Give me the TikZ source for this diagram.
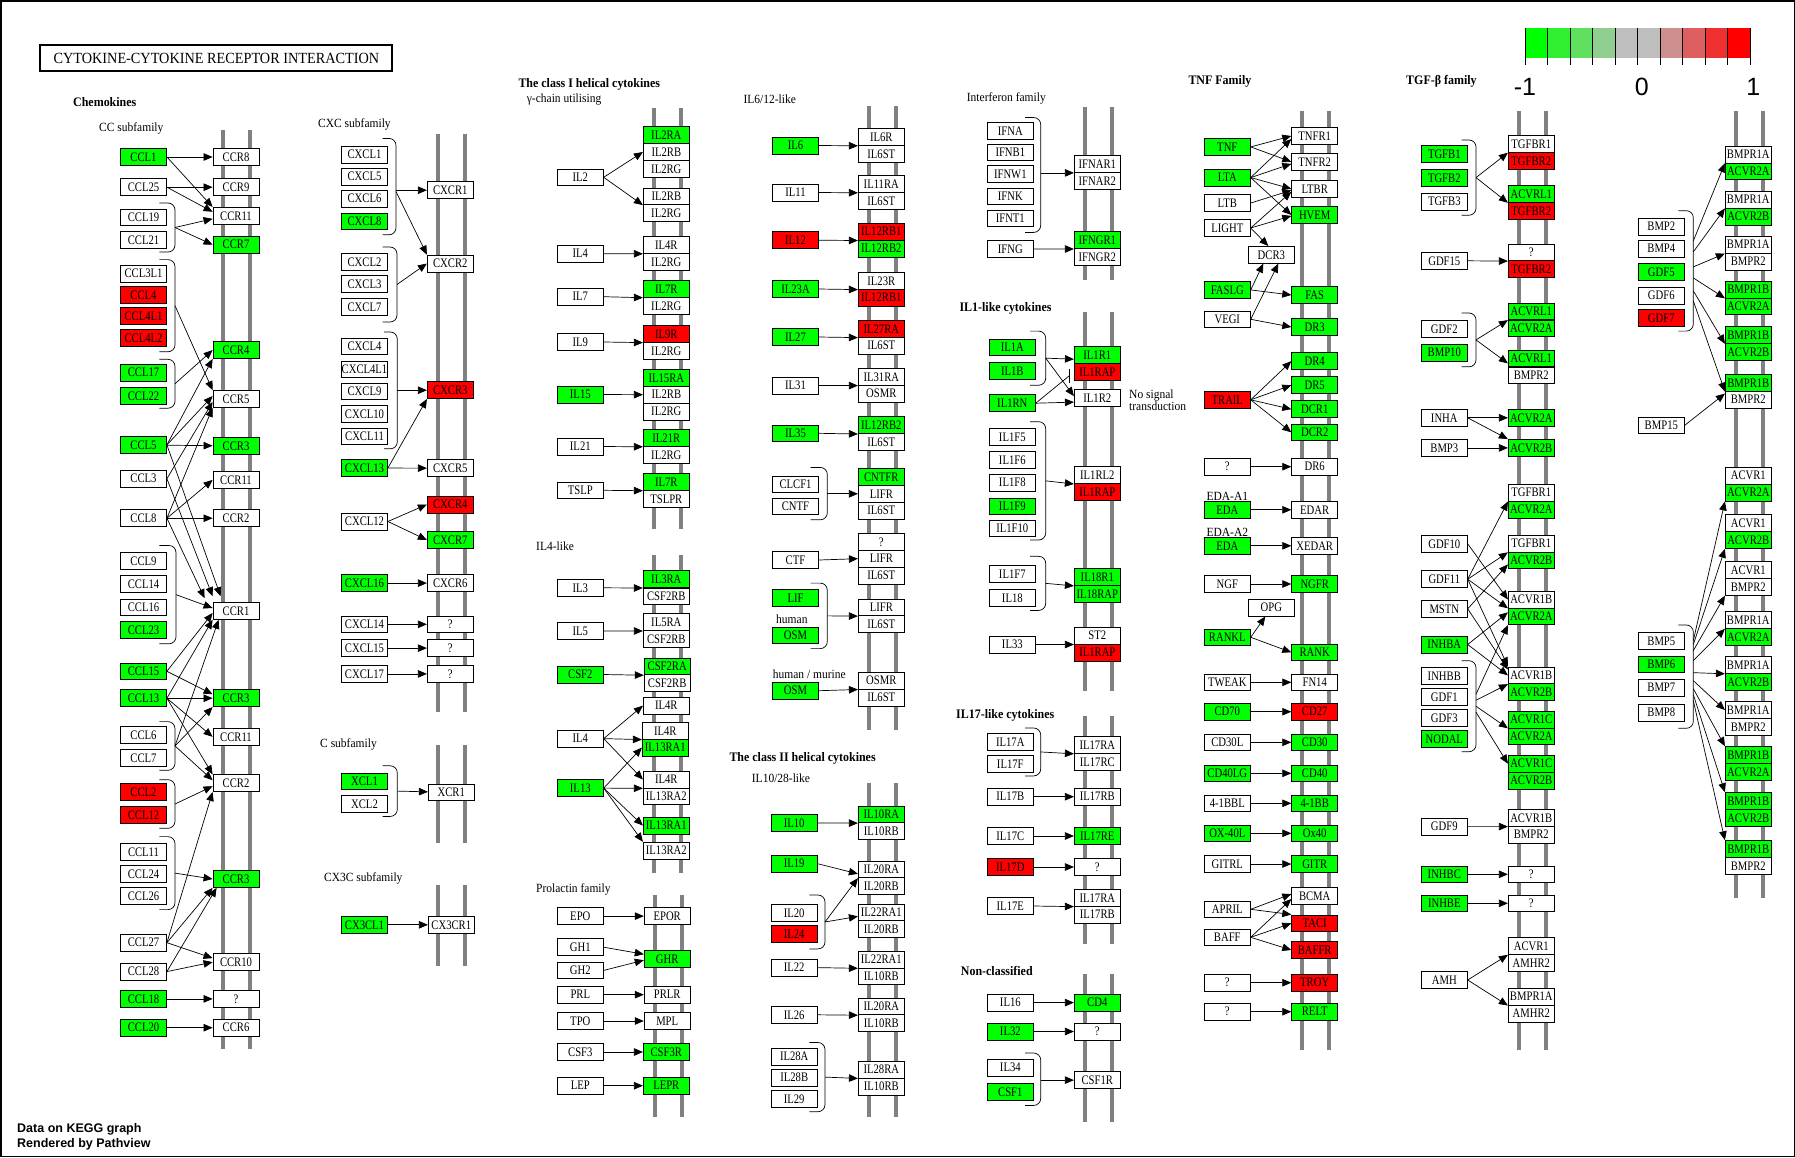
\documentclass[tikz,border=0pt]{standalone}
\usepackage{fontspec}
\setmainfont{Liberation Serif}
\newfontfamily\kgfamily{Liberation Serif}[FakeStretch=0.82]
\newfontfamily\lbfamily{Liberation Serif}[FakeStretch=0.92]
\newfontfamily\sansfam{Liberation Sans}
\usetikzlibrary{arrows.meta}
\definecolor{keggGreen}{RGB}{0,255,0}
\definecolor{keggRed}{RGB}{255,0,0}
\definecolor{keggGray}{RGB}{128,128,128}
\definecolor{lg0}{RGB}{0,255,0}
\definecolor{lg1}{RGB}{48,238,48}
\definecolor{lg2}{RGB}{95,222,95}
\definecolor{lg3}{RGB}{143,206,143}
\definecolor{lg4}{RGB}{190,190,190}
\definecolor{lg5}{RGB}{190,190,190}
\definecolor{lg6}{RGB}{206,143,143}
\definecolor{lg7}{RGB}{222,95,95}
\definecolor{lg8}{RGB}{238,48,48}
\definecolor{lg9}{RGB}{255,0,0}
\newcommand{\kgfont}{\kgfamily\fontsize{13}{13}\selectfont}
% two grey membrane lines round a receptor column
\newcommand{\membrane}[3]{%
  \draw[memline] ({#1-13.5},#2) -- ({#1-13.5},#3);
  \draw[memline] ({#1+13.5},#2) -- ({#1+13.5},#3);}
% ligand group bracket: name, left x, right x, top, bottom
\newcommand{\ligbrace}[5]{%
  \draw[bracket] (#2,#4) -- (#3,#4) -- (#3,#5) -- (#2,#5);
  \coordinate (#1) at (#3,{(#4+#5)/2});}

\begin{document}
\begin{tikzpicture}[
  x=1pt,y=-1pt,
  gene/.style={draw,line width=0.8pt,fill=white,minimum width=46pt,minimum height=16.8pt,inner sep=0pt,font=\kgfont},
  geneUp/.style={gene,fill=keggGreen},
  geneDn/.style={gene,fill=keggRed},
  rel/.style={-{Triangle[length=9pt,width=7.5pt]},line width=0.7pt},
  memline/.style={draw=keggGray,line width=4pt},
  bracket/.style={line width=0.7pt,rounded corners=7pt},
  famlabel/.style={font=\lbfamily\bfseries\fontsize{13}{13}\selectfont,anchor=west,inner sep=0pt},
  sublabel/.style={font=\lbfamily\fontsize{12.5}{13}\selectfont,anchor=west,inner sep=0pt}
]
\useasboundingbox (0,0) rectangle (1795,1157);
\draw[line width=1.5pt] (0.75,0.75) rectangle (1794.25,1156.25);

\node[draw,line width=2pt,minimum width=352pt,minimum height=26pt,inner sep=0pt,
  font=\lbfamily\fontsize{15.5}{16}\selectfont] (title) at (216.4,58.3) {CYTOKINE-CYTOKINE RECEPTOR INTERACTION};

% legend
\foreach \c [count=\i from 0] in {lg0,lg1,lg2,lg3,lg4,lg5,lg6,lg7,lg8,lg9}
  \fill[\c] ({1525+22.5*\i},28.2) rectangle ++(22.5,30.1);
\foreach \i in {0,...,10}
  \draw[line width=1pt] ({1525+22.5*\i},28.2) -- ++(0,36.5);
\node[font=\sansfam\fontsize{25}{25}\selectfont] (lgmin) at (1525,86.5) {-1};
\node[font=\sansfam\fontsize{25}{25}\selectfont] (lgmid) at (1641.7,86.5) {0};
\node[font=\sansfam\fontsize{25}{25}\selectfont] (lgmax) at (1753.3,86.5) {1};

\node[anchor=west,inner sep=0pt,font=\sansfam\bfseries\fontsize{12.5}{13}\selectfont] (foot1) at (17,1129.7) {Data on KEGG graph};
\node[anchor=west,inner sep=0pt,font=\sansfam\bfseries\fontsize{12.5}{13}\selectfont] (foot2) at (17,1144.7) {Rendered by Pathview};

% membranes
\membrane{236.5}{129.8}{1049.2}
\membrane{451.3}{134.4}{712.3}
\membrane{451.3}{745.2}{842.6}
\membrane{451.3}{884.5}{966.1}
\membrane{667.5}{108}{528.9}
\membrane{667.5}{555.3}{872.5}
\membrane{668.5}{895}{1116.6}
\membrane{882.5}{106.3}{730.2}
\membrane{882.5}{783.4}{1117.4}
\membrane{1098.7}{107.3}{280.4}
\membrane{1098.7}{311.9}{690.6}
\membrane{1098.7}{716}{944.4}
\membrane{1098.7}{974.3}{1122.2}
\membrane{1315.5}{110.7}{1050}
\membrane{1532.5}{111}{1050}
\membrane{1749.2}{111}{898.3}

% ---- chemokines: CC subfamily ----
\node[famlabel] (lbchemo) at (73,101.6) {Chemokines};
\node[sublabel] (lbcc) at (99,128) {CC subfamily};
\node[geneUp] (ccl1) at (143.5,157) {CCL1};
\node[gene] (ccl25) at (143.5,187.2) {CCL25};
\node[gene] (ccl19) at (143.5,217.3) {CCL19};
\node[gene] (ccl21) at (143.5,239.8) {CCL21};
\node[gene] (ccl3l1) at (143.5,273.7) {CCL3L1};
\node[geneDn] (ccl4) at (143.5,295.1) {CCL4};
\node[geneDn] (ccl4l1) at (143.5,316.2) {CCL4L1};
\node[geneDn] (ccl4l2) at (143.5,338) {CCL4L2};
\node[geneUp] (ccl17) at (143.5,372.7) {CCL17};
\node[geneUp] (ccl22) at (143.5,396) {CCL22};
\node[geneUp] (ccl5) at (143.5,444.9) {CCL5};
\node[gene] (ccl3) at (143.5,478.7) {CCL3};
\node[gene] (ccl8) at (143.5,518.2) {CCL8};
\node[gene] (ccl9) at (143.5,560.8) {CCL9};
\node[gene] (ccl14) at (143.5,584) {CCL14};
\node[gene] (ccl16) at (143.5,607.3) {CCL16};
\node[geneUp] (ccl23) at (143.5,630.1) {CCL23};
\node[geneUp] (ccl15) at (143.5,671.3) {CCL15};
\node[geneUp] (ccl13) at (143.5,698.2) {CCL13};
\node[gene] (ccl6) at (143.5,735) {CCL6};
\node[gene] (ccl7) at (143.5,758.2) {CCL7};
\node[geneDn] (ccl2) at (143.5,791.8) {CCL2};
\node[geneDn] (ccl12) at (143.5,815) {CCL12};
\node[gene] (ccl11) at (143.5,851.8) {CCL11};
\node[gene] (ccl24) at (143.5,874.2) {CCL24};
\node[gene] (ccl26) at (143.5,896) {CCL26};
\node[gene] (ccl27) at (143.5,942.7) {CCL27};
\node[gene] (ccl28) at (143.5,971.6) {CCL28};
\node[geneUp] (ccl18) at (143.5,998.9) {CCL18};
\node[geneUp] (ccl20) at (143.5,1027.7) {CCL20};

\node[gene] (ccr8) at (236,157) {CCR8};
\node[gene] (ccr9) at (236,187.2) {CCR9};
\node[gene] (ccr11a) at (236,215.8) {CCR11};
\node[geneUp] (ccr7) at (236,244.7) {CCR7};
\node[geneUp] (ccr4) at (236,350.1) {CCR4};
\node[gene] (ccr5) at (236,399) {CCR5};
\node[geneUp] (ccr3a) at (236,446) {CCR3};
\node[gene] (ccr11b) at (236,479.9) {CCR11};
\node[gene] (ccr2a) at (236,518.2) {CCR2};
\node[gene] (ccr1) at (236,611) {CCR1};
\node[geneUp] (ccr3b) at (236,698.2) {CCR3};
\node[gene] (ccr11c) at (236,736.8) {CCR11};
\node[gene] (ccr2b) at (236,783.2) {CCR2};
\node[geneUp] (ccr3c) at (236,879) {CCR3};
\node[gene] (ccr10) at (236,962.1) {CCR10};
\node[gene] (ccrq) at (236,998.9) {?};
\node[gene] (ccr6) at (236,1027.7) {CCR6};

\ligbrace{bccl19}{159.3}{175}{203}{252}
\ligbrace{bccl3}{159.3}{175}{259.6}{351.8}
\ligbrace{bccl17}{159.3}{175}{359.3}{408.2}
\ligbrace{bccl9}{159.3}{176}{545.5}{643.8}
\ligbrace{bccl6}{159.3}{175}{721.6}{770.3}
\ligbrace{bccl2}{159.3}{175}{779.7}{828.3}
\ligbrace{bccl11}{159.3}{175}{836.6}{909.6}

\draw[rel] (ccl1) -- (ccr8);
\draw[rel] (ccl1.east) -- (ccr11a.north west);
\draw[rel] (ccl25) -- (ccr9);
\draw[rel] (ccl25.east) -- ([yshift=4pt]ccr11a.west);
\draw[rel] (bccl19) -- ([yshift=-3pt]ccr11a.west);
\draw[rel] (bccl19) -- (ccr7.west);
\draw[rel] (bccl3) -- (ccr5.north west);
\draw[rel] (bccl17) -- (ccr4.west);
\draw[rel] (ccl5.east) -- (ccr4.south west);
\draw[rel] (ccl5.east) -- ([yshift=3pt]ccr5.west);
\draw[rel] (ccl5) -- (ccr3a);
\draw[rel] (ccl5.east) -- ([xshift=8pt,yshift=6pt]ccr1.north west);
\draw[rel] (ccl3.east) -- ([yshift=-3pt]ccr5.west);
\draw[rel] (ccl3.east) -- ([yshift=6pt]ccr1.north west);
\draw[rel] (ccl8.east) -- (ccr5.south west);
\draw[rel] (ccl8.east) -- (ccr11b.west);
\draw[rel] (ccl8) -- (ccr2a);
\draw[rel] (ccl8.east) -- ([xshift=-8pt,yshift=4pt]ccr1.north west);
\draw[rel] (bccl9) -- ([yshift=3pt]ccr1.west);
\draw[rel] (ccl15.east) -- ([yshift=-2pt]ccr1.west);
\draw[rel] (ccl15.east) -- ([yshift=4pt]ccr3b.west);
\draw[rel] (ccl13.east) -- (ccr1.south west);
\draw[rel] (ccl13) -- (ccr3b);
\draw[rel] (ccl13.east) -- (ccr11c.west);
\draw[rel] (ccl13.east) -- (ccr2b.north west);
\draw[rel] (bccl6) -- ([xshift=6pt]ccr1.south west);
\draw[rel] (bccl6) -- (ccr3b.south west);
\draw[rel] (bccl6) -- ([yshift=3pt]ccr2b.west);
\draw[rel] (bccl2) -- ([yshift=-3pt]ccr2b.west);
\draw[rel] (bccl11) -- (ccr3c.west);
\draw[rel] (ccl27.east) -- (ccr2b.south west);
\draw[rel] (ccl27.east) -- (ccr3c.south west);
\draw[rel] (ccl27.east) -- ([yshift=4pt]ccr10.west);
\draw[rel] (ccl28.east) -- ([xshift=4pt]ccr3c.south west);
\draw[rel] (ccl28.east) -- (ccr10.west);
\draw[rel] (ccl18) -- (ccrq);
\draw[rel] (ccl20) -- (ccr6);

% ---- CXC, C and CX3C subfamilies ----
\node[sublabel] (lbcxc) at (318,124.3) {CXC subfamily};
\node[gene] (cxcl1) at (364.5,154.7) {CXCL1};
\node[gene] (cxcl5) at (364.5,176.7) {CXCL5};
\node[gene] (cxcl6) at (364.5,198.7) {CXCL6};
\node[geneUp] (cxcl8) at (364.5,221.3) {CXCL8};
\node[gene] (cxcl2) at (364.5,261.9) {CXCL2};
\node[gene] (cxcl3) at (364.5,284.2) {CXCL3};
\node[gene] (cxcl7) at (364.5,306.8) {CXCL7};
\node[gene] (cxcl4) at (364.5,346.4) {CXCL4};
\node[gene] (cxcl4l1) at (364.5,369.4) {CXCL4L1};
\node[gene] (cxcl9) at (364.5,391.4) {CXCL9};
\node[gene] (cxcl10) at (364.5,414) {CXCL10};
\node[gene] (cxcl11) at (364.5,436.3) {CXCL11};
\node[geneUp] (cxcl13) at (364.5,468) {CXCL13};
\node[gene] (cxcl12) at (364.5,521.5) {CXCL12};
\node[geneUp] (cxcl16) at (364.5,583.1) {CXCL16};
\node[gene] (cxcl14) at (364.5,624.3) {CXCL14};
\node[gene] (cxcl15) at (364.5,648.1) {CXCL15};
\node[gene] (cxcl17) at (364.5,673.9) {CXCL17};
\node[gene] (cxcr1) at (450.3,190.2) {CXCR1};
\node[gene] (cxcr2) at (450.3,263.5) {CXCR2};
\node[geneDn] (cxcr3) at (450.3,390.2) {CXCR3};
\node[gene] (cxcr5) at (450.3,468.2) {CXCR5};
\node[geneDn] (cxcr4) at (450.3,504.5) {CXCR4};
\node[geneUp] (cxcr7) at (450.3,540) {CXCR7};
\node[gene] (cxcr6) at (450.3,583.1) {CXCR6};
\node[gene] (cxcq1) at (450.3,624.3) {?};
\node[gene] (cxcq2) at (450.3,648.1) {?};
\node[gene] (cxcq3) at (450.3,673.9) {?};
\ligbrace{bcxcl1}{382.7}{396}{138.4}{234.8}
\ligbrace{bcxcl2}{382.7}{397}{247}{322}
\ligbrace{bcxcl4}{384}{397.3}{332}{448.8}
\draw[rel] (bcxcl1 |- cxcr1) -- (cxcr1);
\draw[rel] ([yshift=-5pt]bcxcl1) -- (cxcr2.north west);
\draw[rel] (bcxcl2) -- (cxcr2.west);
\draw[rel] (bcxcl4 |- cxcr3) -- (cxcr3);
\draw[rel] (cxcl13.east) -- (cxcr3.south west);
\draw[rel] (cxcl13) -- (cxcr5);
\draw[rel] (cxcl12.east) -- (cxcr4.west);
\draw[rel] (cxcl12.east) -- (cxcr7.west);
\draw[rel] (cxcl16) -- (cxcr6);
\draw[rel] (cxcl14) -- (cxcq1);
\draw[rel] (cxcl15) -- (cxcq2);
\draw[rel] (cxcl17) -- (cxcq3);

\node[sublabel] (lbc) at (320,744.9) {C subfamily};
\node[geneUp] (xcl1) at (364.5,781.3) {XCL1};
\node[gene] (xcl2) at (364.5,803.8) {XCL2};
\node[gene] (xcr1) at (451.3,792.4) {XCR1};
\ligbrace{bxcl}{382.7}{397.3}{765.8}{816.4}
\draw[rel] (bxcl) -- (xcr1);

\node[sublabel] (lbcx3c) at (324,878.1) {CX3C subfamily};
\node[geneUp] (cx3cl1) at (364.5,924.8) {CX3CL1};
\node[gene] (cx3cr1) at (451.3,924.8) {CX3CR1};
\draw[rel] (cx3cl1) -- (cx3cr1);

% ---- class I helical cytokines ----
\node[famlabel] (lbcls1) at (518.3,84.5) {The class I helical cytokines};
\node[sublabel] (lbgamma) at (526.7,99.2) {γ-chain utilising};
\node[geneUp] (il2ra) at (666.3,135) {IL2RA};
\node[gene] (il2rb) at (666.3,152) {IL2RB};
\node[gene] (il2rg) at (666.3,168.9) {IL2RG};
\node[gene] (il2rbb) at (666.3,196.3) {IL2RB};
\node[gene] (il2rgb) at (666.3,213.2) {IL2RG};
\node[gene] (il4r) at (666.3,245) {IL4R};
\node[gene] (il2rgc) at (666.3,261.9) {IL2RG};
\node[geneUp] (il7r) at (666.3,288.9) {IL7R};
\node[gene] (il2rgd) at (666.3,305.8) {IL2RG};
\node[geneDn] (il9r) at (666.3,333.8) {IL9R};
\node[gene] (il2rge) at (666.3,350.8) {IL2RG};
\node[geneUp] (il15ra) at (666.3,377.8) {IL15RA};
\node[gene] (il2rbc) at (666.3,394.7) {IL2RB};
\node[gene] (il2rgf) at (666.3,411.6) {IL2RG};
\node[geneUp] (il21r) at (666.3,438) {IL21R};
\node[gene] (il2rgg) at (666.3,454.9) {IL2RG};
\node[geneUp] (il7rb) at (666.3,481.9) {IL7R};
\node[gene] (tslpr) at (666.3,498.8) {TSLPR};
\node[gene] (il2) at (580.3,177.3) {IL2};
\node[gene] (il4) at (580.3,253.7) {IL4};
\node[gene] (il7) at (580.3,296.7) {IL7};
\node[gene] (il9) at (580.3,342) {IL9};
\node[geneUp] (il15) at (580.3,394.5) {IL15};
\node[gene] (il21) at (580.3,446.5) {IL21};
\node[gene] (tslp) at (580.3,490.3) {TSLP};
\draw[rel] (il2.east) -- (il2rb.west);
\draw[rel] (il2.east) -- (il2rbb.south west);
\draw[rel] (il4.east) -- (il4r.south west);
\draw[rel] (il7.east) -- (il7r.south west);
\draw[rel] (il9.east) -- (il9r.south west);
\draw[rel] (il15.east) -- (il2rbc.west);
\draw[rel] (il21.east) -- (il21r.south west);
\draw[rel] (tslp.east) -- (il7rb.south west);

\node[sublabel] (lbil4) at (536,545.8) {IL4-like};
\node[geneUp] (il3ra) at (666.3,579.2) {IL3RA};
\node[gene] (csf2rb) at (666.3,596.4) {CSF2RB};
\node[gene] (il5ra) at (666.3,622.2) {IL5RA};
\node[gene] (csf2rbb) at (666.3,639.1) {CSF2RB};
\node[geneUp] (csf2ra) at (667.2,666.4) {CSF2RA};
\node[gene] (csf2rbc) at (667.2,683.2) {CSF2RB};
\node[gene] (il4ra) at (666.3,705.7) {IL4R};
\node[gene] (il4rb) at (665.3,730.8) {IL4R};
\node[geneUp] (il13ra1a) at (665.3,747.6) {IL13RA1};
\node[gene] (il4rc) at (666.3,779.5) {IL4R};
\node[gene] (il13ra2a) at (666.3,796.3) {IL13RA2};
\node[geneUp] (il13ra1b) at (666.3,825.5) {IL13RA1};
\node[gene] (il13ra2b) at (666.3,850.6) {IL13RA2};
\node[gene] (il3) at (580.3,587.8) {IL3};
\node[gene] (il5) at (580.3,630.9) {IL5};
\node[geneUp] (csf2) at (580.3,674.5) {CSF2};
\node[gene] (il4b) at (580.3,738.6) {IL4};
\node[geneUp] (il13) at (580.3,788.1) {IL13};
\draw[rel] (il3.east) -- (il3ra.south west);
\draw[rel] (il5.east) -- (il5ra.south west);
\draw[rel] (csf2.east) -- (csf2ra.south west);
\draw[rel] (il4b.east) -- (il4ra.west);
\draw[rel] (il4b.east) -- (il4rb.south west);
\draw[rel] (il4b.east) -- (il4rc.west);
\draw[rel] (il13.east) -- (il13ra1a.west);
\draw[rel] (il13.east) -- (il4rc.south west);
\draw[rel] (il13.east) -- (il13ra1b.west);
\draw[rel] (il13.east) -- (il13ra2b.north west);

\node[sublabel] (lbprl) at (536,889.3) {Prolactin family};
\node[gene] (epor) at (667.2,916.1) {EPOR};
\node[geneUp] (ghr) at (667.2,959.2) {GHR};
\node[gene] (prlr) at (667.2,994.7) {PRLR};
\node[gene] (mpl) at (667.2,1021) {MPL};
\node[geneUp] (csf3r) at (666.3,1052) {CSF3R};
\node[geneUp] (lepr) at (666.3,1085.7) {LEPR};
\node[gene] (epo) at (580.3,916.1) {EPO};
\node[gene] (gh1) at (580.3,947.2) {GH1};
\node[gene] (gh2) at (580.3,970.4) {GH2};
\node[gene] (prl) at (580.3,994.7) {PRL};
\node[gene] (tpo) at (580.3,1021) {TPO};
\node[gene] (csf3) at (580.3,1052) {CSF3};
\node[gene] (lep) at (580.3,1085.7) {LEP};
\draw[rel] (epo) -- (epor);
\draw[rel] (gh1.east) -- ([yshift=5pt]ghr.west);
\draw[rel] (gh2.east) -- ([yshift=-1pt]ghr.west);
\draw[rel] (prl) -- (prlr);
\draw[rel] (tpo) -- (mpl);
\draw[rel] (csf3) -- (csf3r);
\draw[rel] (lep) -- (lepr);

% ---- IL6/12-like ----
\node[sublabel] (lbil6) at (743.3,99.2) {IL6/12-like};
\node[gene] (il6r) at (881.3,137) {IL6R};
\node[gene] (il6st) at (881.3,154) {IL6ST};
\node[gene] (il11ra) at (881.3,184) {IL11RA};
\node[gene] (il6stb) at (881.3,201) {IL6ST};
\node[geneDn] (il12rb1a) at (881.3,231.7) {IL12RB1};
\node[geneUp] (il12rb2a) at (881.3,248.6) {IL12RB2};
\node[gene] (il23r) at (881.3,280.8) {IL23R};
\node[geneDn] (il12rb1b) at (881.3,297.7) {IL12RB1};
\node[geneDn] (il27ra) at (881.3,328.8) {IL27RA};
\node[gene] (il6stc) at (881.3,345.7) {IL6ST};
\node[gene] (il31ra) at (881.3,376.8) {IL31RA};
\node[gene] (osmra) at (881.3,393.7) {OSMR};
\node[geneUp] (il12rb2b) at (881.3,425.2) {IL12RB2};
\node[gene] (il6std) at (881.3,442.1) {IL6ST};
\node[geneUp] (cntfr) at (881.3,476.9) {CNTFR};
\node[gene] (lifra) at (881.3,493.8) {LIFR};
\node[gene] (il6ste) at (881.3,510.7) {IL6ST};
\node[gene] (il6q) at (881.3,541.8) {?};
\node[gene] (lifrb) at (881.3,558.7) {LIFR};
\node[gene] (il6stf) at (881.3,575.6) {IL6ST};
\node[gene] (lifrc) at (881.3,607.3) {LIFR};
\node[gene] (il6stg) at (881.3,624.1) {IL6ST};
\node[gene] (osmrb) at (881.3,680.7) {OSMR};
\node[gene] (il6sth) at (881.3,697.5) {IL6ST};
\node[geneUp] (il6) at (795.5,145.5) {IL6};
\node[gene] (il11) at (795.5,192.5) {IL11};
\node[geneDn] (il12) at (795.5,240.2) {IL12};
\node[geneUp] (il23a) at (795.5,289) {IL23A};
\node[geneUp] (il27) at (795.5,337) {IL27};
\node[gene] (il31) at (795.5,385.5) {IL31};
\node[geneUp] (il35) at (795.5,433.3) {IL35};
\node[gene] (clcf1) at (795.5,484.3) {CLCF1};
\node[gene] (cntf) at (795.5,506.3) {CNTF};
\node[gene] (ctf) at (795.5,560) {CTF};
\node[geneUp] (lif) at (795.5,597.9) {LIF};
\node[sublabel] (lbhuman) at (776,619.3) {human};
\node[geneUp] (osma) at (795.5,635.3) {OSM};
\node[sublabel] (lbmurine) at (772.7,674.3) {human / murine};
\node[geneUp] (osmb) at (795.5,690.7) {OSM};
\ligbrace{bcntf}{810.7}{827.3}{467.4}{519.8}
\ligbrace{blif}{810.7}{827.3}{583.1}{648.6}
\draw[rel] (il6.east) -- (il6r.south west);
\draw[rel] (il11.east) -- (il11ra.south west);
\draw[rel] (il12.east) -- (il12rb1a.south west);
\draw[rel] (il23a.east) -- (il23r.south west);
\draw[rel] (il27.east) -- (il27ra.south west);
\draw[rel] (il31.east) -- (il31ra.south west);
\draw[rel] (il35.east) -- (il12rb2b.south west);
\draw[rel] (bcntf |- lifra) -- (lifra);
\draw[rel] (ctf.east) -- (lifrb.west);
\draw[rel] (blif) -- (lifrc.south west);
\draw[rel] (osmb.east) -- (osmrb.south west);

% ---- class II helical cytokines ----
\node[famlabel] (lbcls2) at (729.3,758.7) {The class II helical cytokines};
\node[sublabel] (lbil10) at (751.7,777.8) {IL10/28-like};
\node[geneUp] (il10ra) at (881.3,814.3) {IL10RA};
\node[gene] (il10rba) at (881.3,831.2) {IL10RB};
\node[gene] (il20raa) at (881.3,869.3) {IL20RA};
\node[gene] (il20rba) at (881.3,886.2) {IL20RB};
\node[gene] (il22raa) at (881.3,912.4) {IL22RA1};
\node[gene] (il20rbb) at (881.3,929.2) {IL20RB};
\node[gene] (il22rab) at (881.3,959.5) {IL22RA1};
\node[gene] (il10rbb) at (881.3,976.4) {IL10RB};
\node[gene] (il20rab) at (881.3,1006.4) {IL20RA};
\node[gene] (il10rbc) at (881.3,1023.2) {IL10RB};
\node[gene] (il28ra) at (881.3,1069.6) {IL28RA};
\node[gene] (il10rbd) at (881.3,1086.5) {IL10RB};
\node[geneUp] (il10) at (794.2,822.9) {IL10};
\node[geneUp] (il19) at (794.2,863.7) {IL19};
\node[gene] (il20) at (794.2,912.8) {IL20};
\node[geneDn] (il24) at (794.2,934.1) {IL24};
\node[gene] (il22) at (794.2,967.6) {IL22};
\node[gene] (il26) at (794.2,1014.8) {IL26};
\node[gene] (il28a) at (794.2,1056.5) {IL28A};
\node[gene] (il28b) at (794.2,1077.5) {IL28B};
\node[gene] (il29) at (794.2,1098.8) {IL29};
\ligbrace{bil20}{809.3}{825}{895}{948.9}
\ligbrace{bil28}{809.3}{825}{1042.5}{1111.7}
\draw[rel] (il10.east) -- (il10ra.south west);
\draw[rel] (il19.east) -- ([yshift=-4.5pt]il20raa.west);
\draw[rel] (bil20) -- (il20raa.south west);
\draw[rel] (bil20) -- ([yshift=-4pt]il22raa.west);
\draw[rel] (il22.east) -- (il22rab.south west);
\draw[rel] (il26.east) -- (il20rab.south west);
\draw[rel] (bil28) -- (il28ra.south west);

% ---- interferon family ----
\node[sublabel] (lbifn) at (966.7,98) {Interferon family};
\node[gene] (ifna) at (1010.3,131) {IFNA};
\node[gene] (ifnb1) at (1010.3,152.3) {IFNB1};
\node[gene] (ifnw1) at (1010.3,174.2) {IFNW1};
\node[gene] (ifnk) at (1010.3,196.3) {IFNK};
\node[gene] (ifnt1) at (1010.3,218.3) {IFNT1};
\node[gene] (ifng) at (1010.3,249) {IFNG};
\node[gene] (ifnar1) at (1097.3,164.1) {IFNAR1};
\node[gene] (ifnar2) at (1097.3,181) {IFNAR2};
\node[geneUp] (ifngr1) at (1097.3,240.2) {IFNGR1};
\node[gene] (ifngr2) at (1097.3,257.1) {IFNGR2};
\ligbrace{bifn}{1025}{1040.7}{117.5}{232.4}
\draw[rel] (bifn |- ifnar1.south west) -- (ifnar1.south west);
\draw[rel] (ifng.east) -- (ifngr1.south west);

% ---- IL1-like cytokines ----
\node[famlabel] (lbil1) at (959.3,308.1) {IL1-like cytokines};
\node[geneUp] (il1a) at (1012.3,347.4) {IL1A};
\node[geneUp] (il1b) at (1012.3,371) {IL1B};
\node[geneUp] (il1rn) at (1012.3,403.2) {IL1RN};
\node[gene] (il1f5) at (1012.3,437) {IL1F5};
\node[gene] (il1f6) at (1012.3,460) {IL1F6};
\node[gene] (il1f8) at (1012.3,482.6) {IL1F8};
\node[geneUp] (il1f9) at (1012.3,506.3) {IL1F9};
\node[gene] (il1f10) at (1012.3,528.3) {IL1F10};
\node[gene] (il1f7) at (1012.3,573.9) {IL1F7};
\node[gene] (il18) at (1012.3,597.9) {IL18};
\node[gene] (il33) at (1012.3,644.5) {IL33};
\node[geneUp] (il1r1) at (1097.3,355.2) {IL1R1};
\node[geneDn] (il1rapa) at (1097.3,372) {IL1RAP};
\node[gene] (il1r2) at (1097.3,398.1) {IL1R2};
\node[gene] (il1rl2) at (1097.3,475.2) {IL1RL2};
\node[geneDn] (il1rapb) at (1097.3,492.1) {IL1RAP};
\node[geneUp] (il18r1) at (1097.3,577.1) {IL18R1};
\node[geneUp] (il18rap) at (1097.3,593.8) {IL18RAP};
\node[gene] (st2) at (1097.3,635.7) {ST2};
\node[geneDn] (il1rapc) at (1097.3,652.5) {IL1RAP};
\node[anchor=west,align=left,inner sep=0pt,font=\lbfamily\fontsize{12.5}{11}\selectfont] (lbnosig) at (1129,400.5) {No signal\\transduction};
\ligbrace{bil1}{1030}{1045.7}{331.1}{385.2}
\ligbrace{bil1f}{1030}{1045.7}{421.7}{540}
\ligbrace{bil18}{1030}{1045.7}{556.3}{610.4}
\coordinate (il1bar) at (1069,376);
\draw[rel] (bil1) -- ([yshift=-4pt]il1r1.west);
\draw[rel] (bil1) -- ([yshift=2pt]il1r2.west);
\draw[rel] (il1rn.east) -- ([yshift=-4pt]il1r2.west);
\draw[line width=0.7pt] (il1rn.east) -- (il1bar);
\draw[line width=0.7pt] ([yshift=7pt]il1bar) -- ([yshift=-7pt]il1bar);
\draw[rel] (bil1f) -- (il1rl2.south west);
\draw[rel] (bil18) -- (il18r1.south west);
\draw[rel] (il33.east) -- (st2.south west);

% ---- IL17-like cytokines ----
\node[famlabel] (lbil17) at (956,714.9) {IL17-like cytokines};
\node[gene] (il17a) at (1010.3,742) {IL17A};
\node[gene] (il17f) at (1010.3,763.8) {IL17F};
\node[gene] (il17b) at (1010.3,796.7) {IL17B};
\node[gene] (il17c) at (1010.3,836) {IL17C};
\node[geneDn] (il17d) at (1010.3,867) {IL17D};
\node[gene] (il17e) at (1010.3,906) {IL17E};
\node[gene] (il17raa) at (1097.3,745) {IL17RA};
\node[gene] (il17rc) at (1097.3,761.9) {IL17RC};
\node[gene] (il17rba) at (1097.3,796.7) {IL17RB};
\node[geneUp] (il17re) at (1097.3,836) {IL17RE};
\node[gene] (il17q) at (1097.3,867) {?};
\node[gene] (il17rab) at (1097.3,897.8) {IL17RA};
\node[gene] (il17rbb) at (1097.3,914.7) {IL17RB};
\ligbrace{bil17}{1025}{1040.7}{728}{775.9}
\draw[rel] (bil17) -- (il17raa.south west);
\draw[rel] (il17b) -- (il17rba);
\draw[rel] (il17c) -- (il17re);
\draw[rel] (il17d) -- (il17q);
\draw[rel] (il17e.east) -- (il17rab.south west);

% ---- non-classified ----
\node[famlabel] (lbnoncl) at (960.7,971) {Non-classified};
\node[gene] (il16) at (1010.3,1002.6) {IL16};
\node[geneUp] (il32) at (1010.3,1031.5) {IL32};
\node[gene] (il34) at (1010.3,1067.7) {IL34};
\node[geneUp] (csf1) at (1010.3,1092.1) {CSF1};
\node[geneUp] (cd4) at (1097.3,1002.6) {CD4};
\node[gene] (ncq) at (1097.3,1031.5) {?};
\node[gene] (csf1r) at (1097.3,1080.1) {CSF1R};
\ligbrace{bcsf1}{1025}{1040.7}{1053}{1105.4}
\draw[rel] (il16) -- (cd4);
\draw[rel] (il32) -- (ncq);
\draw[rel] (bcsf1 |- csf1r) -- (csf1r);

% ---- TNF family ----
\node[famlabel] (lbtnf) at (1188.3,81.1) {TNF Family};
\node[gene] (tnfr1) at (1314.7,136) {TNFR1};
\node[gene] (tnfr2) at (1314.7,161.8) {TNFR2};
\node[gene] (ltbr) at (1314.7,188.8) {LTBR};
\node[geneUp] (hvem) at (1314.7,214.9) {HVEM};
\node[geneUp] (fas) at (1314.7,295) {FAS};
\node[geneUp] (dr3) at (1314.7,327) {DR3};
\node[geneUp] (dr4) at (1314.7,361.2) {DR4};
\node[geneUp] (dr5) at (1314.7,385.2) {DR5};
\node[geneUp] (dcr1) at (1314.7,409.2) {DCR1};
\node[geneUp] (dcr2) at (1314.7,432.3) {DCR2};
\node[gene] (dr6) at (1314.7,466.7) {DR6};
\node[gene] (edar) at (1314.7,509.8) {EDAR};
\node[gene] (xedar) at (1314.7,545.8) {XEDAR};
\node[geneUp] (ngfr) at (1314.7,584) {NGFR};
\node[geneUp] (rank) at (1314.7,652.3) {RANK};
\node[gene] (fn14) at (1314.7,682.3) {FN14};
\node[geneDn] (cd27) at (1314.7,711.7) {CD27};
\node[geneUp] (cd30) at (1314.7,742.3) {CD30};
\node[geneUp] (cd40) at (1314.7,773.3) {CD40};
\node[geneUp] (r41bb) at (1314.7,803.3) {4-1BB};
\node[geneUp] (ox40) at (1314.7,833.3) {Ox40};
\node[geneUp] (gitr) at (1314.7,864) {GITR};
\node[gene] (bcma) at (1314.7,896) {BCMA};
\node[geneDn] (taci) at (1314.7,923.3) {TACI};
\node[geneDn] (baffr) at (1314.7,950) {BAFFR};
\node[geneDn] (troy) at (1314.7,982.7) {TROY};
\node[geneUp] (relt) at (1314.7,1011.7) {RELT};
\node[geneUp] (tnf) at (1227.3,146.9) {TNF};
\node[geneUp] (lta) at (1227.3,177.6) {LTA};
\node[gene] (ltb) at (1227.3,203) {LTB};
\node[gene] (light) at (1227.3,228) {LIGHT};
\node[gene] (dcr3) at (1271.3,254.8) {DCR3};
\node[geneUp] (faslg) at (1227.3,289.9) {FASLG};
\node[gene] (vegi) at (1227.3,319.3) {VEGI};
\node[geneDn] (trail) at (1227.3,399.8) {TRAIL};
\node[gene] (tnfq) at (1227.3,466.7) {?};
\node[sublabel,anchor=center] (lbedaa1) at (1227.3,496.6) {EDA-A1};
\node[geneUp] (edaa) at (1227.3,509.8) {EDA};
\node[sublabel,anchor=center] (lbedaa2) at (1227.3,532.5) {EDA-A2};
\node[geneUp] (edab) at (1227.3,545.8) {EDA};
\node[gene] (ngf) at (1227.3,584) {NGF};
\node[gene] (opg) at (1271.3,607.7) {OPG};
\node[geneUp] (rankl) at (1227.3,637.3) {RANKL};
\node[gene] (tweak) at (1227.3,682.3) {TWEAK};
\node[geneUp] (cd70) at (1227.3,711.7) {CD70};
\node[gene] (cd30l) at (1227.3,742.3) {CD30L};
\node[geneUp] (cd40lg) at (1227.3,773.3) {CD40LG};
\node[gene] (l41bbl) at (1227.3,803.3) {4-1BBL};
\node[geneUp] (ox40l) at (1227.3,833.3) {OX-40L};
\node[gene] (gitrl) at (1227.3,864) {GITRL};
\node[gene] (april) at (1227.3,909.3) {APRIL};
\node[gene] (baff) at (1227.3,937.3) {BAFF};
\node[gene] (troyq) at (1227.3,982.7) {?};
\node[gene] (reltq) at (1227.3,1011.7) {?};
\draw[rel] (tnf.east) -- (tnfr1.west);
\draw[rel] (tnf.east) -- (tnfr2.west);
\draw[rel] (lta.east) -- ([yshift=-3pt]tnfr1.west);
\draw[rel] (lta.east) -- ([yshift=-2pt]tnfr2.west);
\draw[rel] (lta.east) -- (ltbr.west);
\draw[rel] (lta.east) -- (hvem.west);
\draw[rel] (ltb.east) -- ([yshift=-1.5pt]ltbr.west);
\draw[rel] (light.east) -- ([yshift=-3pt]ltbr.west);
\draw[rel] (light.east) -- ([yshift=-1pt]hvem.west);
\draw[rel] (light.east) -- ([xshift=-3pt]dcr3.north);
\draw[rel] (faslg.east) -- ([xshift=-8pt]dcr3.south);
\draw[rel] (faslg.east) -- (fas.west);
\draw[rel] (vegi.east) -- ([xshift=7pt]dcr3.south);
\draw[rel] (vegi.east) -- (dr3.west);
\draw[rel] (trail.east) -- (dr4.west);
\draw[rel] (trail.east) -- (dr5.west);
\draw[rel] (trail.east) -- (dcr1.west);
\draw[rel] (trail.east) -- (dcr2.west);
\draw[rel] (tnfq) -- (dr6);
\draw[rel] (edaa) -- (edar);
\draw[rel] (edab) -- (xedar);
\draw[rel] (ngf) -- (ngfr);
\draw[rel] (rankl.east) -- ([xshift=-6pt]opg.south);
\draw[rel] (rankl.east) -- (rank.west);
\draw[rel] (tweak) -- (fn14);
\draw[rel] (cd70) -- (cd27);
\draw[rel] (cd30l) -- (cd30);
\draw[rel] (cd40lg) -- (cd40);
\draw[rel] (l41bbl) -- (r41bb);
\draw[rel] (ox40l) -- (ox40);
\draw[rel] (gitrl) -- (gitr);
\draw[rel] (april.east) -- ([yshift=2pt]bcma.west);
\draw[rel] (april.east) -- (taci.north west);
\draw[rel] (baff.east) -- ([yshift=-3pt]bcma.west);
\draw[rel] (baff.east) -- (taci.west);
\draw[rel] (baff.east) -- (baffr.west);
\draw[rel] (troyq) -- (troy);
\draw[rel] (reltq) -- (relt);

% ---- TGF-beta family ----
\node[famlabel] (lbtgf) at (1406,81.8) {TGF-β family};
\node[gene] (tgfbr1a) at (1531.3,143.9) {TGFBR1};
\node[geneDn] (tgfbr2a) at (1531.3,160.8) {TGFBR2};
\node[geneUp] (acvrl1a) at (1531.3,194) {ACVRL1};
\node[geneDn] (tgfbr2b) at (1531.3,210.9) {TGFBR2};
\node[gene] (tgfq) at (1531.3,252.3) {?};
\node[geneDn] (tgfbr2c) at (1531.3,269.2) {TGFBR2};
\node[geneUp] (acvrl1b) at (1531.3,311.3) {ACVRL1};
\node[geneUp] (acvr2aa) at (1531.3,328.3) {ACVR2A};
\node[geneUp] (acvrl1c) at (1531.3,358.4) {ACVRL1};
\node[gene] (bmpr2a) at (1531.3,375.3) {BMPR2};
\node[geneUp] (acvr2ab) at (1531.3,417.8) {ACVR2A};
\node[geneUp] (acvr2ba) at (1531.3,447.9) {ACVR2B};
\node[gene] (tgfbr1b) at (1531.3,492.7) {TGFBR1};
\node[geneUp] (acvr2ac) at (1531.3,509.6) {ACVR2A};
\node[gene] (tgfbr1c) at (1531.3,543.5) {TGFBR1};
\node[geneUp] (acvr2bb) at (1531.3,560.4) {ACVR2B};
\node[gene] (acvr1ba) at (1531.3,599.5) {ACVR1B};
\node[geneUp] (acvr2ad) at (1531.3,616.3) {ACVR2A};
\node[gene] (acvr1bb) at (1531.3,675.3) {ACVR1B};
\node[geneUp] (acvr2bc) at (1531.3,692.1) {ACVR2B};
\node[geneUp] (acvr1ca) at (1531.3,719.5) {ACVR1C};
\node[geneUp] (acvr2ae) at (1531.3,736.3) {ACVR2A};
\node[geneUp] (acvr1cb) at (1531.3,763.7) {ACVR1C};
\node[geneUp] (acvr2bd) at (1531.3,780.5) {ACVR2B};
\node[gene] (acvr1bc) at (1531.3,817.8) {ACVR1B};
\node[gene] (bmpr2b) at (1531.3,834.6) {BMPR2};
\node[gene] (inhbcq) at (1531.3,874.3) {?};
\node[gene] (inhbeq) at (1531.3,903.3) {?};
\node[gene] (acvr1d) at (1531.3,946) {ACVR1};
\node[gene] (amhr2a) at (1531.3,962.8) {AMHR2};
\node[gene] (bmpr1ax) at (1531.3,996.7) {BMPR1A};
\node[gene] (amhr2b) at (1531.3,1013.5) {AMHR2};
\node[geneUp] (tgfb1) at (1444.3,154.1) {TGFB1};
\node[geneUp] (tgfb2) at (1444.3,177.8) {TGFB2};
\node[gene] (tgfb3) at (1444.3,201.5) {TGFB3};
\node[gene] (gdf15) at (1444.3,260.8) {GDF15};
\node[gene] (gdf2) at (1444.3,329) {GDF2};
\node[geneUp] (bmp10) at (1444.3,352.7) {BMP10};
\node[gene] (inha) at (1444.3,417.8) {INHA};
\node[gene] (bmp3) at (1444.3,447.9) {BMP3};
\node[gene] (gdf10) at (1444.3,543.8) {GDF10};
\node[gene] (gdf11) at (1444.3,579.2) {GDF11};
\node[gene] (mstn) at (1444.3,608.8) {MSTN};
\node[geneUp] (inhba) at (1444.3,644.5) {INHBA};
\node[gene] (inhbb) at (1444.3,676.2) {INHBB};
\node[gene] (gdf1) at (1444.3,696.8) {GDF1};
\node[gene] (gdf3) at (1444.3,717.8) {GDF3};
\node[geneUp] (nodal) at (1444.3,739.2) {NODAL};
\node[gene] (gdf9) at (1444.3,826.6) {GDF9};
\node[geneUp] (inhbc) at (1444.3,874.3) {INHBC};
\node[geneUp] (inhbe) at (1444.3,903.3) {INHBE};
\node[gene] (amh) at (1444.3,980) {AMH};
\ligbrace{btgfb}{1461.7}{1476}{140}{215.2}
\ligbrace{bgdf2}{1461.7}{1476}{313}{366.8}
\ligbrace{binh}{1461.7}{1476}{660.7}{751.7}
\draw[rel] (btgfb) -- (tgfbr1a.south west);
\draw[rel] (btgfb) -- (acvrl1a.south west);
\draw[rel] (gdf15.east) -- (tgfq.south west);
\draw[rel] (bgdf2) -- (acvrl1b.south west);
\draw[rel] (bgdf2) -- ([yshift=-5pt]acvrl1c.west);
\draw[rel] (inha) -- (acvr2ab);
\draw[rel] (inha.east) -- (acvr2ba.north west);
\draw[rel] (bmp3) -- (acvr2ba);
\draw[rel] (gdf11.east) -- (tgfbr1b.south west);
\draw[rel] (gdf11.east) -- (tgfbr1c.south west);
\draw[rel] (mstn.east) -- ([yshift=-4pt]acvr2bb.west);
\draw[rel] (gdf10.east) -- (acvr1ba.west);
\draw[rel] (gdf11.east) -- (acvr1ba.south west);
\draw[rel] (inhba.east) -- ([yshift=4pt]acvr2ad.west);
\draw[rel] ([yshift=12pt]binh) -- (acvr2ad.south west);
\draw[rel] (gdf11.east) -- (acvr1bb.north west);
\draw[rel] (mstn.east) -- ([yshift=-3pt]acvr1bb.north west);
\draw[rel] (inhba.east) -- (acvr1bb.west);
\draw[rel] ([yshift=6pt]binh) -- (acvr1bb.south west);
\draw[rel] (binh) -- (acvr1ca.south west);
\draw[rel] ([yshift=-6pt]binh) -- (acvr1cb.west);
\draw[rel] (gdf9.east) -- (acvr1bc.south west);
\draw[rel] (inhbc) -- (inhbcq);
\draw[rel] (inhbe) -- (inhbeq);
\draw[rel] (amh.east) -- (acvr1d.south west);
\draw[rel] (amh.east) -- (bmpr1ax.south west);

% ---- BMP receptors ----
\node[gene] (bmpr1aa) at (1748.3,154.5) {BMPR1A};
\node[geneUp] (acvr2af) at (1748.3,171.4) {ACVR2A};
\node[gene] (bmpr1ab) at (1748.3,199.6) {BMPR1A};
\node[geneUp] (acvr2be) at (1748.3,216.5) {ACVR2B};
\node[gene] (bmpr1ac) at (1748.3,244.7) {BMPR1A};
\node[gene] (bmpr2c) at (1748.3,261.6) {BMPR2};
\node[geneUp] (bmpr1ba) at (1748.3,289.5) {BMPR1B};
\node[geneUp] (acvr2ag) at (1748.3,306.4) {ACVR2A};
\node[geneUp] (bmpr1bb) at (1748.3,335) {BMPR1B};
\node[geneUp] (acvr2bf) at (1748.3,351.9) {ACVR2B};
\node[geneUp] (bmpr1bc) at (1748.3,382.8) {BMPR1B};
\node[gene] (bmpr2d) at (1748.3,399.7) {BMPR2};
\node[gene] (acvr1a) at (1748.3,475.7) {ACVR1};
\node[geneUp] (acvr2ah) at (1748.3,492.6) {ACVR2A};
\node[gene] (acvr1b) at (1748.3,523.1) {ACVR1};
\node[geneUp] (acvr2bg) at (1748.3,540) {ACVR2B};
\node[gene] (acvr1c) at (1748.3,570.1) {ACVR1};
\node[gene] (bmpr2e) at (1748.3,586.9) {BMPR2};
\node[gene] (bmpr1ad) at (1748.3,620) {BMPR1A};
\node[geneUp] (acvr2ai) at (1748.3,636.8) {ACVR2A};
\node[gene] (bmpr1ae) at (1748.3,665) {BMPR1A};
\node[geneUp] (acvr2bh) at (1748.3,681.8) {ACVR2B};
\node[gene] (bmpr1af) at (1748.3,710) {BMPR1A};
\node[gene] (bmpr2f) at (1748.3,726.8) {BMPR2};
\node[geneUp] (bmpr1bd) at (1748.3,755) {BMPR1B};
\node[geneUp] (acvr2aj) at (1748.3,771.8) {ACVR2A};
\node[geneUp] (bmpr1be) at (1748.3,801) {BMPR1B};
\node[geneUp] (acvr2bi) at (1748.3,817.8) {ACVR2B};
\node[geneUp] (bmpr1bf) at (1748.3,849) {BMPR1B};
\node[gene] (bmpr2g) at (1748.3,865.8) {BMPR2};
\node[gene] (bmp2) at (1661.3,226.7) {BMP2};
\node[gene] (bmp4) at (1661.3,248.5) {BMP4};
\node[geneUp] (gdf5) at (1661.3,271.8) {GDF5};
\node[gene] (gdf6) at (1661.3,295.5) {GDF6};
\node[geneDn] (gdf7) at (1661.3,318.1) {GDF7};
\node[gene] (bmp15) at (1661.3,425.3) {BMP15};
\node[gene] (bmp5) at (1661.3,641) {BMP5};
\node[geneUp] (bmp6) at (1661.3,664.3) {BMP6};
\node[gene] (bmp7) at (1661.3,687.7) {BMP7};
\node[gene] (bmp8) at (1661.3,712.7) {BMP8};
\ligbrace{bbmpa}{1678.3}{1693.3}{210.7}{331.1}
\ligbrace{bbmpb}{1678.3}{1693.3}{625}{728.3}
\draw[rel] ([yshift=30pt]bbmpa) -- (bmpr1aa.south west);
\draw[rel] ([yshift=19pt]bbmpa) -- (bmpr1ab.south west);
\draw[rel] ([yshift=4pt]bbmpa) -- (bmpr1ac.south west);
\draw[rel] ([yshift=-7pt]bbmpa) -- (bmpr1ba.south west);
\draw[rel] ([yshift=-20pt]bbmpa) -- (bmpr1bb.south west);
\draw[rel] ([yshift=-30pt]bbmpa) -- (bmpr1bc.south west);
\draw[rel] (bmp15.east) -- ([yshift=-2pt]bmpr1bc.south west);
\draw[rel] ([yshift=36pt]bbmpb) -- (acvr2ah.south west);
\draw[rel] ([yshift=32pt]bbmpb) -- (acvr2bg.south west);
\draw[rel] ([yshift=26pt]bbmpb) -- (bmpr2e.south west);
\draw[rel] ([yshift=16pt]bbmpb) -- (bmpr1ad.south west);
\draw[rel] ([yshift=4pt]bbmpb) -- (bmpr1ae.south west);
\draw[rel] ([yshift=-4pt]bbmpb) -- (bmpr1af.west);
\draw[rel] ([yshift=-12pt]bbmpb) -- (bmpr1bd.north west);
\draw[rel] ([yshift=-18pt]bbmpb) -- (bmpr1be.north west);
\draw[rel] ([yshift=-24pt]bbmpb) -- (bmpr1bf.north west);
\end{tikzpicture}
\end{document}
